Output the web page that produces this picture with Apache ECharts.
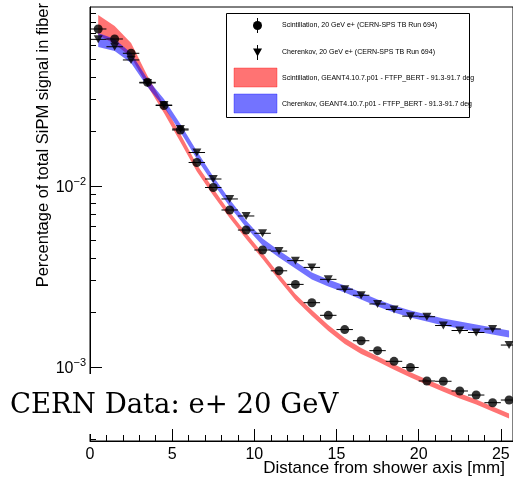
<!DOCTYPE html>
<html><head><meta charset="utf-8">
<script src="https://cdn.jsdelivr.net/npm/echarts@6/dist/echarts.min.js"></script>
<style>html,body{margin:0;padding:0;background:#fff;}#c{width:513px;height:481px;}</style>
</head><body><div id="c"></div>
<script>
// ---- data ----
const binCenters = [0.5,1.5,2.5,3.5,4.5,5.5,6.5,7.5,8.5,9.5,10.5,11.5,12.5,13.5,14.5,15.5,16.5,17.5,18.5,19.5,20.5,21.5,22.5,23.5,24.5,25.5];
const binHalfWidth = 0.5;
const scintData = [0.0737,0.0649,0.0541,0.0374,0.02785,0.02039,0.01349,0.00981,0.00737,0.00571,0.00443,0.00340,0.00286,0.002266,0.00193,0.00161,0.001397,0.001231,0.001075,0.000994,0.000837,0.000834,0.000737,0.000700,0.000635,0.000657];
const cherData = [0.0646,0.0588,0.0497,0.0371,0.0280,0.02065,0.01531,0.01093,0.00848,0.00683,0.00548,0.00437,0.00387,0.00355,0.00305,0.00269,0.00249,0.00223,0.00208,0.00191,0.001896,0.001695,0.001591,0.001551,0.001622,0.001322];
const scintSimHigh = [0.0881,0.0766,0.0617,0.0405,0.02803,0.01938,0.01315,0.009687,0.007185,0.005499,0.004265,0.003265,0.002531,0.002064,0.001706,0.001446,0.001274,0.001145,0.001034,0.0009340,0.0008540,0.0007810,0.0007150,0.0006620,0.0006060,0.0005540];
const scintSimLow = [0.0683,0.0609,0.0516,0.0357,0.02532,0.01751,0.01203,0.008861,0.006656,0.005095,0.003950,0.003025,0.002346,0.001913,0.001581,0.001340,0.001180,0.001071,0.0009670,0.0008740,0.0007990,0.0007310,0.0006690,0.0006200,0.0005670,0.0005190];
const cherSimHigh = [0.0700,0.0649,0.0543,0.0390,0.03025,0.02200,0.01561,0.011285,0.008424,0.006447,0.005128,0.004401,0.003827,0.003327,0.003044,0.002820,0.002580,0.002360,0.002187,0.002052,0.001950,0.001854,0.001784,0.001717,0.001653,0.001591];
const cherSimLow = [0.0586,0.0557,0.0478,0.0352,0.02733,0.01988,0.01410,0.010323,0.007703,0.005897,0.004690,0.004027,0.003501,0.003044,0.002785,0.002580,0.002360,0.002159,0.002000,0.001877,0.001784,0.001696,0.001632,0.001571,0.001512,0.001455];
const xMajorTicks = [0,5,10,15,20,25];
const xMinorTicks = [1,2,3,4,6,7,8,9,11,12,13,14,16,17,18,19,21,22,23,24];
const yMajorTicks = [0.001,0.01];
const yMinorTicks = [0.0004,0.0005,0.0006,0.0007,0.0008,0.0009,0.002,0.003,0.004,0.005,0.006,0.007,0.008,0.009,0.02,0.03,0.04,0.05,0.06,0.07,0.08,0.09];
const legendLabels = [
  'Scintillation, 20 GeV e+ (CERN-SPS TB Run 694)',
  'Cherenkov, 20 GeV e+ (CERN-SPS TB Run 694)',
  'Scintillation, GEANT4.10.7.p01 - FTFP_BERT - 91.3-91.7 deg',
  'Cherenkov, GEANT4.10.7.p01 - FTFP_BERT - 91.3-91.7 deg'
];
const xTitle = 'Distance from shower axis [mm]';
const yTitle = 'Percentage of total SiPM signal in fiber';
const overlayText = 'CERN Data: e+ 20 GeV';

// ---- styles ----
const FONT = 'Liberation Sans, Arial, Helvetica, sans-serif';
const RED = 'rgba(255,0,0,0.55)';
const BLUE = 'rgba(0,0,255,0.55)';
const X_MIN = 0, X_MAX = 25.74, Y_MIN = 0.0003901, Y_MAX = 0.09749;

function bandSeries(name, low, high, color) {
  return {
    name, type: 'custom', coordinateSystem: 'cartesian2d', silent: true, animation: false, clip: true,
    data: binCenters.map((x, i) => [x, low[i], high[i]]),
    encode: { x: 0, y: [1, 2] },
    renderItem(params, api) {
      if (params.dataIndex !== 0) return null;
      const top = [], bot = [];
      for (let i = 0; i < binCenters.length; i++) {
        top.push(api.coord([binCenters[i], high[i]]));
        bot.push(api.coord([binCenters[i], low[i]]));
      }
      return { type: 'polygon', shape: { points: top.concat(bot.reverse()) }, style: { fill: color, stroke: null } };
    }
  };
}
function errSeries(vals) {
  return {
    type: 'custom', coordinateSystem: 'cartesian2d', silent: true, animation: false, z: 4,
    data: binCenters.map((x, i) => [x, vals[i]]),
    encode: { x: 0, y: 1 },
    renderItem(params, api) {
      const x = api.value(0), y = api.value(1);
      const a = api.coord([x - binHalfWidth, y]), b = api.coord([x + binHalfWidth, y]);
      return { type: 'line', shape: { x1: a[0], y1: a[1], x2: b[0], y2: b[1] }, style: { stroke: '#000', lineWidth: 1 } };
    }
  };
}

const chart = echarts.init(document.getElementById('c'), null, { renderer: 'canvas' });
const option = {
  animation: false,
  backgroundColor: '#fff',
  grid: { left: 90, top: 7, right: -3, bottom: 40, show: true, borderColor: '#000', borderWidth: 1, containLabel: false },
  xAxis: [
    { type: 'value', min: X_MIN, max: X_MAX, position: 'bottom',
      axisLine: { show: true, lineStyle: { color: '#000', width: 1 } },
      axisTick: { show: true, inside: true, length: 12, customValues: xMajorTicks, lineStyle: { color: '#000' } },
      axisLabel: { show: true, customValues: xMajorTicks, margin: 6, fontSize: 16, fontFamily: FONT, color: '#000' },
      splitLine: { show: false } },
    { type: 'value', min: X_MIN, max: X_MAX, position: 'bottom',
      axisLine: { show: false },
      axisTick: { show: true, inside: true, length: 6, customValues: xMinorTicks, lineStyle: { color: '#000' } },
      axisLabel: { show: false }, splitLine: { show: false } }
  ],
  yAxis: [
    { type: 'log', logBase: 10, min: Y_MIN, max: Y_MAX, position: 'left',
      axisLine: { show: true, lineStyle: { color: '#000', width: 1 } },
      axisTick: { show: true, inside: true, length: 12, customValues: yMajorTicks, lineStyle: { color: '#000' } },
      axisLabel: { show: true, customValues: yMajorTicks, margin: 4, color: '#000',
        formatter: v => '{b|10}{s|\u2212' + Math.abs(Math.round(Math.log10(v))) + '}',
        rich: { b: { fontSize: 16, fontFamily: FONT, color: '#000', verticalAlign: 'bottom', lineHeight: 20 },
                s: { fontSize: 11, fontFamily: FONT, color: '#000', verticalAlign: 'top', lineHeight: 12 } } },
      splitLine: { show: false } },
    { type: 'log', logBase: 10, min: Y_MIN, max: Y_MAX, position: 'left',
      axisLine: { show: false },
      axisTick: { show: true, inside: true, length: 6, customValues: yMinorTicks, lineStyle: { color: '#000' } },
      axisLabel: { show: false }, splitLine: { show: false } }
  ],
  series: [
    bandSeries('scintSim', scintSimLow, scintSimHigh, RED),
    bandSeries('cherSim', cherSimLow, cherSimHigh, BLUE),
    errSeries(scintData),
    errSeries(cherData),
    { name: 'scint', type: 'scatter', symbol: 'circle', symbolSize: 9, z: 5,
      itemStyle: { color: '#000' }, data: binCenters.map((x, i) => [x, scintData[i]]) },
    { name: 'cher', type: 'scatter', symbol: 'triangle', symbolRotate: 180, symbolSize: [9, 8], z: 5,
      itemStyle: { color: '#000' }, data: binCenters.map((x, i) => [x, cherData[i]]) }
  ],
  graphic: [
    // white overlay box with the annotation
    { type: 'rect', z: 100, shape: { x: 0, y: 374, width: 100, height: 60 }, style: { fill: '#fff' } },
    { type: 'rect', z: 100, shape: { x: 100, y: 374, width: 245, height: 54 }, style: { fill: '#fff' } },
    { type: 'text', z: 101, x: 10, y: 406, style: { text: overlayText, font: '27.5px "DejaVu Serif", serif', fill: '#000', textVerticalAlign: 'middle', textAlign: 'left' } },
    // axis titles
    { type: 'text', z: 101, x: 505, y: 468, style: { text: xTitle, font: '17px ' + FONT, fill: '#000', textAlign: 'right', textVerticalAlign: 'middle' } },
    { type: 'text', z: 101, x: 43, y: 3, rotation: Math.PI / 2, style: { text: yTitle, font: '16.5px ' + FONT, fill: '#000', textAlign: 'right', textVerticalAlign: 'middle' } },
    // legend
    { type: 'rect', z: 110, shape: { x: 226.5, y: 13.5, width: 243, height: 104 }, style: { fill: '#fff', stroke: '#000', lineWidth: 1 } },
    { type: 'line', z: 111, shape: { x1: 257.5, y1: 18, x2: 257.5, y2: 33 }, style: { stroke: '#000', lineWidth: 1 } },
    { type: 'circle', z: 112, shape: { cx: 257.5, cy: 25.5, r: 4.5 }, style: { fill: '#000' } },
    { type: 'line', z: 111, shape: { x1: 257.5, y1: 45, x2: 257.5, y2: 60 }, style: { stroke: '#000', lineWidth: 1 } },
    { type: 'polygon', z: 112, shape: { points: [[253, 48.5], [262, 48.5], [257.5, 56.5]] }, style: { fill: '#000' } },
    { type: 'rect', z: 111, shape: { x: 234, y: 68, width: 43, height: 19 }, style: { fill: RED, stroke: 'rgba(255,0,0,0.35)', lineWidth: 1 } },
    { type: 'rect', z: 111, shape: { x: 234, y: 94, width: 43, height: 19 }, style: { fill: BLUE, stroke: 'rgba(0,0,255,0.35)', lineWidth: 1 } },
    ...legendLabels.map((t, i) => ({ type: 'text', z: 112, x: 282, y: [25.5, 52, 78, 104][i],
      style: { text: t, font: '7px ' + FONT, fill: '#000', textAlign: 'left', textVerticalAlign: 'middle' } }))
  ]
};
chart.setOption(option);
</script></body></html>
